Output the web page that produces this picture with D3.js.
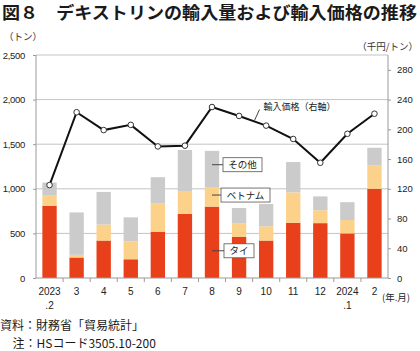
<!DOCTYPE html>
<html>
<head>
<meta charset="utf-8">
<script src="https://cdn.jsdelivr.net/npm/d3@7"></script>
<style>
  body { margin: 0; background: #fff; }
  svg { display: block; }
  text { font-family: "Noto Sans CJK JP", sans-serif; }
  .num { font-family: "Liberation Sans", Arial, sans-serif; }
</style>
</head>
<body>
<div id="chart"></div>
<script>
// months on the x axis (first line / second line of the label)
var months = ["2023.2", "3", "4", "5", "6", "7", "8", "9", "10", "11", "12", "2024.1", "2"];
var monthTop = ["2023", "3", "4", "5", "6", "7", "8", "9", "10", "11", "12", "2024", "2"];
var monthSub = [".2", "", "", "", "", "", "", "", "", "", "", ".1", ""];

// import volume by country (tons)
var thai    = [810, 230, 420, 210, 520, 720, 800, 460, 420, 620, 615, 500, 1000];
var vietnam = [120,  30, 180, 200, 320, 255, 220, 150, 160, 340, 145, 150,  265];
var other   = [140, 475, 365, 270, 290, 460, 405, 175, 250, 340, 155, 200,  195];

// import price (thousand yen / ton, right axis)
var price = [125, 223, 199, 206, 177, 178, 230, 218, 205, 187, 155, 194, 221];

var leftTicks = [0, 500, 1000, 1500, 2000, 2500];
var rightTicks = [0, 40, 80, 120, 160, 200, 240, 280];

var seriesNames = ["thai", "vietnam", "other"];
var seriesLabels = {thai: "タイ", vietnam: "ベトナム", other: "その他"};
var colors = {thai: "#e8401a", vietnam: "#fcd28b", other: "#cbcbcb"};

var W = 420, H = 351;
var margin = {left: 36, right: 32, top: 55, bottom: 73};
var width = W - margin.left - margin.right;
var height = H - margin.top - margin.bottom;

var svg = d3.select("#chart").append("svg")
    .attr("width", W)
    .attr("height", H);

// title
svg.append("text")
    .attr("x", 2)
    .attr("y", 18.5)
    .attr("font-size", 17)
    .attr("font-weight", "bold")
    .attr("fill", "#1a1a1a")
    .attr("textLength", 415)
    .attr("lengthAdjust", "spacingAndGlyphs")
    .text("図８　デキストリンの輸入量および輸入価格の推移");

// unit labels
svg.append("text")
    .attr("x", 4).attr("y", 40)
    .attr("font-size", 9.5).attr("fill", "#333")
    .text("（トン）");
svg.append("text")
    .attr("x", 418).attr("y", 50)
    .attr("text-anchor", "end")
    .attr("font-size", 9.5).attr("fill", "#333")
    .text("（千円/トン）");

var chart = svg.append("g")
    .attr("transform", "translate(" + margin.left + "," + margin.top + ")");

var x = d3.scaleBand()
    .domain(months)
    .range([0, width])
    .paddingInner(0.47)
    .paddingOuter(0.235);

var yL = d3.scaleLinear().domain([0, 2500]).range([height, 0]);
var yR = d3.scaleLinear().domain([0, 300]).range([height, 0]);

// gridlines
chart.append("g")
    .selectAll("line")
    .data(leftTicks.filter(function(d) { return d > 0; }))
    .enter().append("line")
    .attr("x1", 0).attr("x2", width)
    .attr("y1", function(d) { return yL(d); })
    .attr("y2", function(d) { return yL(d); })
    .attr("stroke", "#c4c4c4")
    .attr("stroke-width", 1);

// stacked bars
var table = months.map(function(m, i) {
    return {month: m, thai: thai[i], vietnam: vietnam[i], other: other[i]};
});
var stacked = d3.stack().keys(seriesNames)(table);

chart.append("g")
    .selectAll("g")
    .data(stacked)
    .enter().append("g")
    .attr("fill", function(d) { return colors[d.key]; })
    .selectAll("rect")
    .data(function(d) { return d; })
    .enter().append("rect")
    .attr("x", function(d) { return x(d.data.month); })
    .attr("width", x.bandwidth())
    .attr("y", function(d) { return yL(d[1]); })
    .attr("height", function(d) { return yL(d[0]) - yL(d[1]); });

// axes
var axisColor = "#9a9a9a";

var leftAxis = chart.append("g")
    .call(d3.axisLeft(yL).tickValues(leftTicks).tickFormat(d3.format(",")).tickSize(3).tickPadding(8));
var rightAxis = chart.append("g")
    .attr("transform", "translate(" + width + ",0)")
    .call(d3.axisRight(yR).tickValues(rightTicks).tickSize(3).tickPadding(6));

[leftAxis, rightAxis].forEach(function(a) {
    a.select(".domain").attr("stroke", axisColor).attr("d", "M0," + height + "V0");
    a.selectAll(".tick line").attr("stroke", axisColor);
    a.selectAll(".tick text")
        .attr("class", "num")
        .attr("font-size", 9.5)
        .attr("fill", "#222");
});
leftAxis.selectAll(".tick text").attr("letter-spacing", -0.3);

// x axis baseline and ticks between months
var xAxis = chart.append("g").attr("transform", "translate(0," + height + ")");
xAxis.append("line")
    .attr("x1", 0).attr("x2", width)
    .attr("stroke", axisColor);
xAxis.selectAll("line.tk")
    .data(months.slice(1))
    .enter().append("line")
    .attr("class", "tk")
    .attr("x1", function(d) { return x(d) - x.step() * x.paddingInner() / 2; })
    .attr("x2", function(d) { return x(d) - x.step() * x.paddingInner() / 2; })
    .attr("y1", 0).attr("y2", 4)
    .attr("stroke", axisColor);

xAxis.selectAll("text.top")
    .data(months)
    .enter().append("text")
    .attr("class", "num")
    .attr("x", function(d) { return x(d) + x.bandwidth() / 2; })
    .attr("y", 17)
    .attr("text-anchor", "middle")
    .attr("font-size", 10)
    .attr("fill", "#222")
    .text(function(d, i) { return monthTop[i]; });

xAxis.selectAll("text.sub")
    .data(months)
    .enter().append("text")
    .attr("class", "num")
    .attr("x", function(d) { return x(d) + x.bandwidth() / 2; })
    .attr("y", 31)
    .attr("text-anchor", "middle")
    .attr("font-size", 10)
    .attr("fill", "#222")
    .text(function(d, i) { return monthSub[i]; });

svg.append("text")
    .attr("x", 382).attr("y", 301)
    .attr("font-size", 9.5).attr("fill", "#222")
    .text("(年.月)");

// price line
var line = d3.line()
    .x(function(d, i) { return x(months[i]) + x.bandwidth() / 2; })
    .y(function(d) { return yR(d); });

chart.append("path")
    .datum(price)
    .attr("d", line)
    .attr("fill", "none")
    .attr("stroke", "#111")
    .attr("stroke-width", 2);

chart.append("g")
    .selectAll("circle")
    .data(price)
    .enter().append("circle")
    .attr("cx", function(d, i) { return x(months[i]) + x.bandwidth() / 2; })
    .attr("cy", function(d) { return yR(d); })
    .attr("r", 2.8)
    .attr("fill", "#fff")
    .attr("stroke", "#333")
    .attr("stroke-width", 1);

// series labels with leader lines, anchored to the August bar
var anchorX = x("8") + x.bandwidth() / 2;
var callouts = [
    {key: "other", value: 1270, w: 39, gap: 11},
    {key: "vietnam", value: 930, w: 49, gap: 9},
    {key: "thai", value: 305, w: 30, gap: 12}
];
callouts.forEach(function(c) {
    var yy = yL(c.value);
    chart.append("line")
        .attr("x1", anchorX).attr("x2", anchorX + c.gap)
        .attr("y1", yy).attr("y2", yy)
        .attr("stroke", "#444");
    chart.append("rect")
        .attr("x", anchorX + c.gap).attr("y", yy - 7)
        .attr("width", c.w).attr("height", 14)
        .attr("fill", "#fff")
        .attr("stroke", "#555")
        .attr("stroke-width", 0.8);
    chart.append("text")
        .attr("x", anchorX + c.gap + c.w / 2).attr("y", yy + 3.5)
        .attr("text-anchor", "middle")
        .attr("font-size", 9.5)
        .attr("fill", "#222")
        .text(seriesLabels[c.key]);
});

// price label, leader starts on the segment between Sep and Oct
var c9 = x("9") + x.bandwidth() / 2;
var pX = c9 + x.step() * 0.57;
var pY = yR(price[7] + (price[8] - price[7]) * 0.57);
chart.append("line")
    .attr("x1", pX).attr("y1", pY - 1)
    .attr("x2", pX + 5).attr("y2", pY - 12)
    .attr("stroke", "#444");
chart.append("text")
    .attr("x", pX + 9).attr("y", pY - 11)
    .attr("font-size", 9.5)
    .attr("fill", "#222")
    .attr("textLength", 72)
    .attr("lengthAdjust", "spacingAndGlyphs")
    .text("輸入価格（右軸）");

// source notes
svg.append("text")
    .attr("x", 0).attr("y", 329.5)
    .attr("font-size", 12)
    .attr("fill", "#1a1a1a")
    .text("資料：財務省「貿易統計」");
svg.append("text")
    .attr("x", 12.5).attr("y", 347.5)
    .attr("font-size", 12)
    .attr("fill", "#1a1a1a")
    .text("注：HSコード3505.10-200");
</script>
</body>
</html>
